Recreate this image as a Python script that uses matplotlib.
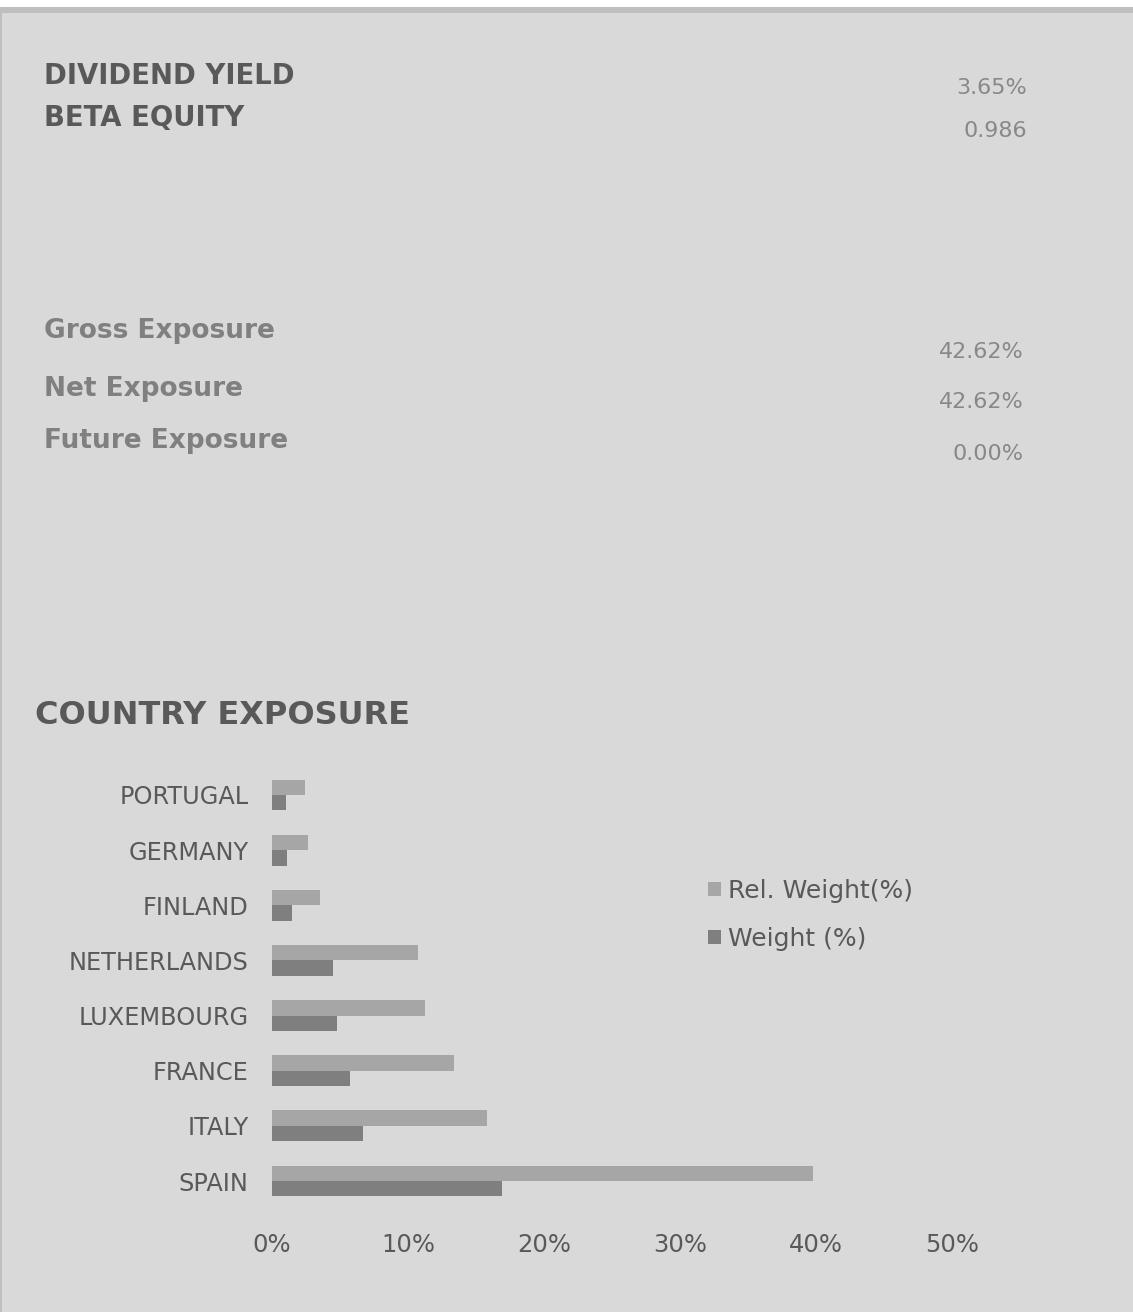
import matplotlib
matplotlib.use("Agg")
import matplotlib.pyplot as plt
import numpy as np
from matplotlib.patches import Rectangle

# ---- data ----
stat_labels = ["DIVIDEND YIELD", "BETA EQUITY"]
stat_values = ["3.65%", "0.986"]
exposure_labels = ["Gross Exposure", "Net Exposure", "Future Exposure"]
exposure_values = ["42.62%", "42.62%", "0.00%"]
countries = ["PORTUGAL", "GERMANY", "FINLAND", "NETHERLANDS", "LUXEMBOURG", "FRANCE", "ITALY", "SPAIN"]
rel_weight = [2.4, 2.65, 3.55, 10.7, 11.25, 13.4, 15.8, 39.8]
weight = [1.0, 1.1, 1.5, 4.5, 4.8, 5.7, 6.7, 16.9]
xticks = [0, 10, 20, 30, 40, 50]
xtick_labels = ["0%", "10%", "20%", "30%", "40%", "50%"]
series_names = ["Rel. Weight(%)", "Weight (%)"]

W, H = 1133, 1312
BG = "#d9d9d9"
DARK = "#595959"
MID = "#808080"
VAL = "#888888"
REL_C = "#a6a6a6"
W_C = "#7f7f7f"

fig = plt.figure(figsize=(W / 100, H / 100), dpi=100)
fig.patch.set_facecolor(BG)

def px(x, y):
    return x / W, 1 - y / H

# top white strip and border
fig.patches.append(Rectangle((0, 1 - 7 / H), 1, 7 / H, transform=fig.transFigure,
                             facecolor="white", edgecolor="none", zorder=0))
fig.patches.append(Rectangle((0, 1 - 13 / H), 1, 6 / H, transform=fig.transFigure,
                             facecolor="#bfbfbf", edgecolor="none", zorder=0))
fig.patches.append(Rectangle((0, 0), 2 / W, 1 - 13 / H, transform=fig.transFigure,
                             facecolor="#bfbfbf", edgecolor="none", zorder=0))

# top statistics
for lab, val, yl, yv in zip(stat_labels, stat_values, [75.5, 118.5], [88, 131]):
    fig.text(*px(44, yl), lab, fontsize=19.8, fontweight="bold", color=DARK,
             ha="left", va="center", family="DejaVu Sans")
    fig.text(*px(1027, yv), val, fontsize=16, color=VAL, ha="right", va="center",
             family="DejaVu Sans")

for lab, val, yl, yv in zip(exposure_labels, exposure_values, [331, 389, 441], [352, 402, 454]):
    fig.text(*px(44, yl), lab, fontsize=19, fontweight="bold", color=MID,
             ha="left", va="center", family="DejaVu Sans")
    fig.text(*px(1024, yv), val, fontsize=16, color=VAL, ha="right", va="center",
             family="DejaVu Sans")

fig.text(*px(35, 716), "COUNTRY EXPOSURE", fontsize=23, fontweight="bold", color=DARK,
         ha="left", va="center", family="DejaVu Sans")

# bar chart
left, right = 272, 952
top, bottom = 767.4, 1208.6
ax = fig.add_axes([left / W, 1 - bottom / H, (right - left) / W, (bottom - top) / H])
ax.set_facecolor(BG)
y = np.arange(len(countries))
h = 0.28
ax.barh(y - h / 2, rel_weight, height=h, color=REL_C, label=series_names[0], linewidth=0)
ax.barh(y + h / 2, weight, height=h, color=W_C, label=series_names[1], linewidth=0)
ax.set_xlim(0, 50)
ax.set_ylim(len(countries) - 0.5, -0.5)
ax.set_yticks(y)
ax.set_yticklabels(countries)
ax.set_xticks(xticks)
ax.set_xticklabels(xtick_labels)
ax.tick_params(axis="y", length=0, labelsize=17.3, labelcolor=DARK, pad=17)
ax.tick_params(axis="x", length=0, labelsize=17.5, labelcolor=DARK, pad=17.4)
for s in ax.spines.values():
    s.set_visible(False)

handles, labels = ax.get_legend_handles_labels()
leg = fig.legend(handles, labels, loc="upper left", bbox_to_anchor=px(708, 879),
                 frameon=False, fontsize=18, labelcolor=DARK, handlelength=0.52,
                 handleheight=0.52, handletextpad=0.26, labelspacing=0.95,
                 borderaxespad=0, borderpad=0)

fig.savefig("out.png", dpi=100, facecolor=BG)
